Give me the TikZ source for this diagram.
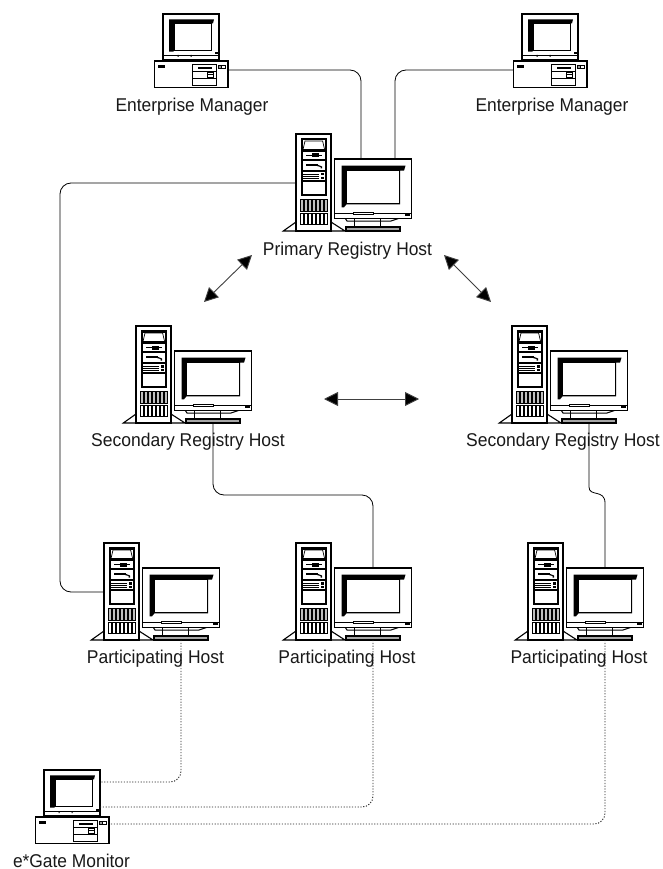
\documentclass[tikz,border=0pt]{standalone}
\usepackage{fontspec}
\setmainfont{Liberation Sans}
\usetikzlibrary{arrows.meta}
\newcommand{\wide}[2]{\scalebox{#1}[1]{#2}}
\tikzset{
  ol/.style={draw=black,line width=1.4pt,fill=white},
  thin line/.style={draw=black,line width=0.7pt},
  lbl/.style={font=\fontsize{18.5}{20}\selectfont,inner sep=0pt,text=black!90,anchor=base},
  wire/.style={draw=black,line width=0.8pt,rounded corners=11pt},
  curvewire/.style={draw=black,line width=0.8pt},
  dotwire/.style={draw=black!85,line width=0.9pt,dash pattern=on 1.2pt off 1.6pt,rounded corners=11pt},
  dbl/.style={draw=black!75,line width=0.9pt,{Triangle[length=14pt,width=14pt,fill=black]}-{Triangle[length=14pt,width=14pt,fill=black]}},
  workstation/.pic={
    % feet
    \draw[ol,line width=1.1pt] (-12.7,97) -- (0,88) -- (35,88) -- (49,97) -- cycle;
    % tower
    \draw[ol] (0,0) rectangle (35,97);
    \fill[black] (4.7,4.3) rectangle (30.7,62);
    \fill[white] (6.7,6.5) rectangle (28.9,16);
    \draw[thin line] (9,7) -- (7,15.5) -- (28.6,15.5) -- (26.6,7) -- cycle;
    \fill[white] (6.7,17.7) rectangle (28.9,25.4);
    \fill[black] (10,20.8) rectangle (26,22.2);
    \fill[black] (16,19.5) rectangle (23,23.5);
    \fill[white] (6.7,27) rectangle (28.9,36);
    \fill[black] (10,30) rectangle (22,31.6);
    \fill[black] (21,30.5) -- (26,32.5) -- (26,34.5) -- (24.5,34.5) -- (24.5,33) -- (21,32) -- cycle;
    \fill[white] (6.7,37.7) rectangle (28.9,46);
    \foreach \yy in {39.6,41.8,44}{\fill[black] (6.7,\yy) rectangle (23,\yy+0.9);}
    \fill[black] (24.5,39) rectangle (28,41.5);
    \fill[black] (24.5,43) rectangle (28,45);
    \fill[white] (6.7,47.5) rectangle (28.9,60);
    % grille
    \foreach \xx in {4,8.1,12.2,16.3,20.4,24.5,28.6}{
      \draw[black,line width=0.6pt,fill=black!25] (\xx,65) rectangle (\xx+2.8,77);
      \draw[black,line width=0.6pt,fill=white] (\xx,79.5) rectangle (\xx+2.8,90);
    }
    % monitor stand
    \draw[thin line,fill=white,line width=1pt] (49,84) -- (51,87) -- (95,87) -- (104,84);
    \draw[black,line width=1pt] (58,84) -- (58,93) (84,84) -- (84,93);
    \draw[ol,fill=black!35,line width=1.1pt] (50,93) rectangle (104,97);
    % monitor
    \draw[ol] (38.3,25) rectangle (115.7,84.3);
    \fill[black] (45.7,31.7) -- (109.5,31.7) -- (108,36.7) -- (104,36.7) -- (104,70.3) -- (50.5,70.3) -- (48,73.3) -- (45.7,73.3) -- cycle;
    \draw[black,line width=0.9pt,fill=white] (50.7,36.9) rectangle (103.8,69.6);
    \draw[black,line width=0.7pt] (38.3,79.4) -- (115.7,79.4);
    \draw[black,line width=0.6pt,fill=white] (57,78) rectangle (77,80.2);
    \fill[black] (109,79.8) rectangle (113.5,81.8);
    % anchors
    \coordinate (-top) at (77,25);
    \coordinate (-topl) at (65,25);
    \coordinate (-topr) at (99,25);
    \coordinate (-west) at (0,49);
    \coordinate (-bot) at (77,97);
  },
  desktop/.pic={
    \draw[ol] (0,0) rectangle (56,45.3);
    \fill[black] (6,5.3) -- (51,5.3) -- (50,9.3) -- (48.5,9.3) -- (48.5,36.2) -- (12,36.2) -- (10,37.7) -- (6,37.7) -- cycle;
    \draw[black,line width=0.8pt,fill=white] (11.7,9.5) rectangle (48.3,36);
    \draw[black,line width=0.7pt] (0,41.5) -- (56,41.5);
    \fill[black] (14.5,41) rectangle (15.5,43) (27.5,41) rectangle (28.5,43);
    \fill[black] (52,38.5) rectangle (55,40.5);
    \fill[black] (7,45.3) rectangle (9.5,47.5) (47,45.3) rectangle (49.5,47.5);
    \draw[ol] (-8.3,47) rectangle (65,73.3);
    \fill[black] (-5,51) rectangle (1.7,53.7);
    \draw[black,line width=0.8pt] (29.3,50.3) rectangle (53.4,71);
    \draw[black,line width=0.7pt] (29.3,57.5) -- (53.4,57.5) (29.3,64) -- (53.4,64);
    \fill[black] (35,52.7) rectangle (48.5,54.6);
    \draw[black,line width=0.7pt] (44,58.5) rectangle (50,63.2) (44,60.8) -- (50,60.8);
    \draw[black,line width=0.7pt,fill=black!40] (55,51) rectangle (58.5,54.3);
    \draw[black,line width=0.7pt] (58.5,51) rectangle (62,54.3);
    \coordinate (-east) at (65,56);
    \coordinate (-west) at (-8.3,56);
    \coordinate (-ma) at (57,12);
    \coordinate (-mb) at (56,37);
    \coordinate (-bb) at (66.5,54);
  }
}
\begin{document}
\begin{tikzpicture}[x=1pt,y=-1pt]
\useasboundingbox (0,0) rectangle (662,869);
\fill[white] (0,0) rectangle (662,869);

% devices
\pic (em1) at (163,14) {desktop};
\pic (em2) at (522,14) {desktop};
\pic (prim) at (296,134) {workstation};
\pic (secl) at (136,326) {workstation};
\pic (secr) at (512,326) {workstation};
\pic (parta) at (104,543) {workstation};
\pic (partb) at (296,543) {workstation};
\pic (partc) at (528,543) {workstation};
\pic (mon) at (44,770) {desktop};

% solid connectors
\draw[wire] (em1-east) -| (prim-topl);
\draw[wire] (em2-west) -| (prim-topr);
\coordinate (leftbend) at (60,183);
\draw[wire] (prim-west) -- (leftbend) |- (parta-west);
\coordinate (midl) at (secl-bot |- 0,495);
\coordinate (midr) at (partb-top |- 0,495);
\draw[wire] (secl-bot) -- (midl) -- (midr) -- (partb-top);
\coordinate (jogt) at (589,487);
\coordinate (jogb) at (605,503);
\draw[curvewire] (secr-bot) -- (jogt) .. controls (589,497) and (605,489) .. (jogb) -- (partc-top);

% dotted connectors
\draw[dotwire] (parta-bot) |- (mon-ma);
\draw[dotwire] (partb-bot) |- (mon-mb);
\draw[dotwire] (partc-bot) |- (mon-bb);

% labels
\node[lbl] (lem1) at (192,112) {\wide{.94}{Enterprise Manager}};
\node[lbl] (lem2) at (552,112) {\wide{.94}{Enterprise Manager}};
\node[lbl] (lprim) at (347.5,255) {\wide{.94}{Primary Registry Host}};
\node[lbl] (lsecl) at (188,446.5) {\wide{.946}{Secondary Registry Host}};
\node[lbl] (lsecr) at (563,446.5) {\wide{.946}{Secondary Registry Host}};
\node[lbl] (lparta) at (155.5,663) {\wide{.945}{Participating Host}};
\node[lbl] (lpartb) at (347,663) {\wide{.945}{Participating Host}};
\node[lbl] (lpartc) at (579,663) {\wide{.945}{Participating Host}};
\node[lbl] (lmon) at (71.5,867.5) {\wide{.94}{e*Gate Monitor}};

% double arrows
\coordinate (a1s) at (252,255);
\coordinate (a1e) at (204,302);
\coordinate (a2s) at (444,255);
\coordinate (a2e) at (491,302);
\coordinate (a3s) at (324,399);
\coordinate (a3e) at (419,399);
\draw[dbl] (a1s) -- (a1e);
\draw[dbl] (a2s) -- (a2e);
\draw[dbl] (a3s) -- (a3e);
\end{tikzpicture}
\end{document}
